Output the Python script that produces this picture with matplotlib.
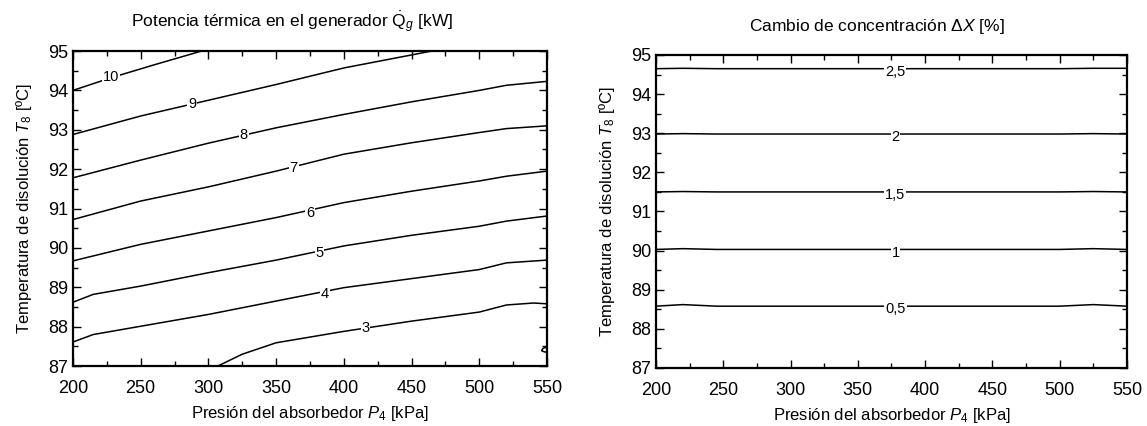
import matplotlib
matplotlib.use('Agg')
import matplotlib.pyplot as plt
from matplotlib.ticker import MultipleLocator

plt.rcParams['font.family'] = ['Liberation Sans', 'DejaVu Sans']
plt.rcParams['mathtext.fontset'] = 'custom'
plt.rcParams['mathtext.rm'] = 'Liberation Sans'
plt.rcParams['mathtext.it'] = 'Liberation Sans:italic'

# Left panel: generator heat duty contours (kW)
q_levels = ['10', '9', '8', '7', '6', '5', '4', '3']
q_p = [
    [200, 228, 260, 295],
    [200, 250, 300, 350, 400, 465],
    [200, 250, 300, 350, 400, 450, 500, 520, 550],
    [200, 250, 300, 350, 400, 450, 500, 520, 550],
    [200, 250, 300, 350, 400, 450, 500, 520, 550],
    [200, 215, 250, 300, 350, 400, 450, 500, 520, 550],
    [200, 215, 250, 300, 350, 400, 450, 500, 520, 550],
    [307, 325, 350, 400, 450, 500, 520, 540, 550],
]
q_t = [
    [94.0, 94.32, 94.65, 95.0],
    [92.88, 93.35, 93.75, 94.15, 94.57, 95.0],
    [91.78, 92.23, 92.66, 93.05, 93.39, 93.71, 94.0, 94.13, 94.23],
    [90.72, 91.19, 91.55, 91.95, 92.38, 92.67, 92.93, 93.03, 93.1],
    [89.67, 90.09, 90.43, 90.77, 91.15, 91.44, 91.7, 91.82, 91.95],
    [88.62, 88.82, 89.03, 89.37, 89.69, 90.05, 90.32, 90.55, 90.68, 90.81],
    [87.61, 87.8, 88.01, 88.31, 88.65, 88.99, 89.22, 89.45, 89.62, 89.69],
    [87.0, 87.3, 87.59, 87.88, 88.14, 88.37, 88.55, 88.6, 88.58],
]
q_lab_p = [228, 288, 326, 363, 375, 382, 386, 416]
q_lab_t = [94.34, 93.65, 92.88, 92.04, 90.89, 89.88, 88.84, 87.97]
# small closed bit at lower right corner
hook_p = [550, 547, 546, 548, 550]
hook_t = [87.48, 87.45, 87.39, 87.36, 87.35]

# Right panel: concentration change contours (%)
dx_levels = ['2,5', '2', '1,5', '1', '0,5']
dx_p = [200, 220, 245, 500, 525, 550]
dx_t = [
    [94.65, 94.66, 94.65, 94.65, 94.66, 94.66],
    [92.98, 92.99, 92.98, 92.98, 92.99, 92.98],
    [91.5, 91.51, 91.5, 91.5, 91.51, 91.5],
    [90.03, 90.05, 90.03, 90.03, 90.05, 90.03],
    [88.58, 88.62, 88.58, 88.58, 88.62, 88.58],
]
dx_lab_p = 378

fig = plt.figure(figsize=(11.47, 4.26), dpi=100)
ax1 = fig.add_axes([0.0636, 0.1408, 0.4133, 0.7394])
ax2 = fig.add_axes([0.5719, 0.1362, 0.4106, 0.7347])

lab_box = dict(facecolor='white', edgecolor='none', pad=0.6)

for p, t in zip(q_p, q_t):
    ax1.plot(p, t, color='black', lw=1.1)
ax1.plot(hook_p, hook_t, color='black', lw=1.1)
for lab, p, t in zip(q_levels, q_lab_p, q_lab_t):
    ax1.text(p, t, lab, fontsize=10.5, ha='center', va='center', bbox=lab_box)

for t in dx_t:
    ax2.plot(dx_p, t, color='black', lw=1.1)
for lab, t in zip(dx_levels, dx_t):
    ax2.text(dx_lab_p, t[3] - 0.08, lab, fontsize=10.5, ha='center', va='center', bbox=lab_box)

for ax in (ax1, ax2):
    ax.set_xlim(200, 550)
    ax.set_ylim(87, 95)
    ax.xaxis.set_major_locator(MultipleLocator(50))
    ax.xaxis.set_minor_locator(MultipleLocator(25))
    ax.yaxis.set_major_locator(MultipleLocator(1))
    ax.yaxis.set_minor_locator(MultipleLocator(0.5))
    ax.tick_params(which='both', direction='in', top=True, right=True, labelsize=13, width=1.0)
    ax.tick_params(which='major', length=6)
    ax.tick_params(which='minor', length=3.5)
    ax.tick_params(axis='x', which='major', pad=10)
    for s in ax.spines.values():
        s.set_linewidth(1.6)
    ax.set_xlabel(r'Presión del absorbedor $P_{\mathit{4}}$ [kPa]', fontsize=12, labelpad=5)
    ax.set_ylabel(r'Temperatura de disolución $T_{\mathit{8}}$ [ºC]', fontsize=12, labelpad=10)

fig.text(0.2546, 1 - 27 / 426, r'Potencia térmica en el generador $\dot{\mathrm{Q}}_{g}$ [kW]',
         fontsize=12.5, ha='center', va='baseline')
fig.text(0.7646, 1 - 31 / 426, r'Cambio de concentración $\mathit{\Delta X}$ [%]',
         fontsize=12.5, ha='center', va='baseline')

fig.savefig('out.png', dpi=100)
